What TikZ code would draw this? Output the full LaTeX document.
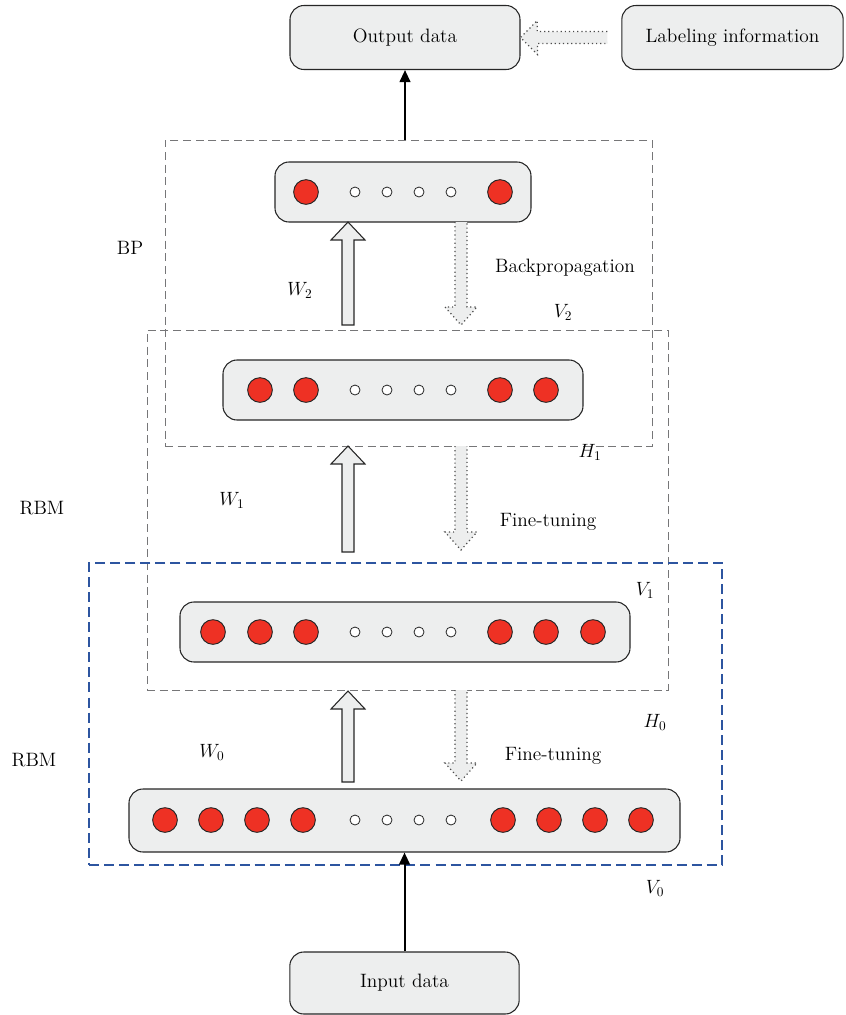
\documentclass[tikz,border=0pt]{standalone}
\usepackage{tikz}
\usetikzlibrary{shapes,arrows,arrows.meta,fit,positioning}
\definecolor{boxgray}{RGB}{237,238,238}
\definecolor{unitred}{RGB}{238,49,36}
\definecolor{rbmblue}{RGB}{45,85,160}
\definecolor{dashgray}{RGB}{118,118,120}
% hollow arrow going up: x, tail y, tip y
\newcommand{\wtarrow}[3]{\draw[weight] (#1-6,#2) -- (#1-6,#3+18) -- (#1-17,#3+18) -- (#1,#3) -- (#1+17,#3+18) -- (#1+6,#3+18) -- (#1+6,#2) -- cycle;}
% dotted arrow going down: x, tail y, tip y
\newcommand{\tunearrow}[3]{\draw[tune] (#1-6,#2) -- (#1-6,#3-18) -- (#1-16,#3-18) -- (#1,#3) -- (#1+16,#3-18) -- (#1+6,#3-18) -- (#1+6,#2);}

\begin{document}
\begin{tikzpicture}[x=0.75pt,y=-0.75pt,% pixel grid, y going down
			every node/.style={font=\fontsize{14.5}{16}\selectfont},
			io/.style={rectangle,rounded corners=10.5pt,draw=black!85,fill=boxgray,line width=0.8pt,minimum height=48pt},
			layer/.style={rectangle,rounded corners=10.5pt,draw=black!85,fill=boxgray,line width=0.8pt,inner sep=0pt},
			unit/.style={circle,draw=black!85,fill=unitred,line width=0.7pt,minimum size=18.5pt,inner sep=0pt},
			hid/.style={circle,draw=black!85,fill=white,line width=0.6pt,minimum size=7.5pt,inner sep=0pt},
			group/.style={draw=dashgray,dash pattern=on 6pt off 3.5pt,line width=0.75pt,inner sep=0pt},
			weight/.style={draw=black!85,fill=boxgray,line width=0.8pt},
			tune/.style={draw=black!70,fill=boxgray,dash pattern=on 0.9pt off 2.2pt,line width=0.9pt},
			flow/.style={draw,line width=1.5pt,-{Triangle[length=9pt,width=8pt]}}
		]
		\useasboundingbox (0,0) rectangle (846,1015);
		% dashed groups
		\node[group,fit={(165,140) (652,446)}](bp){};
		\node[group,fit={(147,330) (668,690)}](rbm1){};
		\node[group,draw=rbmblue,dash pattern=on 7.5pt off 3.8pt,line width=1pt,fit={(89,563) (722,865)}](rbm0){};
		% in and out
		\node[io,minimum width=172.5pt](out) at (405,37.5){Output data};
		\node[io,minimum width=166pt](lab) at (732.5,37.5){Labeling information};
		\node[io,minimum width=172pt,minimum height=46.5pt](in) at (404.5,983){Input data};
		% layers
		\node[layer,fit={(275,162) (531,222)}](l3){};
		\node[layer,fit={(223,360) (583,420)}](l2){};
		\node[layer,fit={(180,602) (630,662)}](l1){};
		\node[layer,fit={(129,789) (680,852)}](l0){};
		% units
		\foreach \y/\n/\offs in {192/l3/97,390/l2/{97,143},632/l1/{97,143,190},820/l0/{100,146,192,238}}{
			\foreach \d [count=\k] in \offs{
				\node[unit](\n-a\k) at (403-\d,\y){};
				\node[unit](\n-b\k) at (403+\d,\y){};
			}
			\foreach \d [count=\k] in {-48,-16,16,48}
				\node[hid](\n-h\k) at (403+\d,\y){};
		}
		% connectors
		\draw[flow](out.south |- bp.north) -- (out.south);
		\draw[flow](in.north) -- (in.north |- l0.south);
		\draw[tune](lab.west)++(-14,-6) -- ++(-70,0) -- ++(0,-11) -- (out.east) -- ++(17,17) -- ++(0,-11) -- ++(70,0);
		\wtarrow{348}{325}{222}
		\wtarrow{348}{552}{446}
		\wtarrow{348}{782}{691}
		\tunearrow{461}{222}{325}
		\tunearrow{461}{446}{550}
		\tunearrow{461}{690}{781}
		% labels
		\node(tbp) at (130,248){BP};
		\node(tw2) at (300,290){$W_2$};
		\node(tbk) at (565,268){Backpropagation};
		\node(tv2) at (563,312){$V_2$};
		\node(th1) at (590,452){$H_1$};
		\node(tw1) at (232,500){$W_1$};
		\node(tf1) at (548,522){Fine-tuning};
		\node(tr1) at (42,508){RBM};
		\node(tv1) at (645,590){$V_1$};
		\node(th0) at (655,722){$H_0$};
		\node(tw0) at (212,752){$W_0$};
		\node(tf0) at (553,756){Fine-tuning};
		\node(tr0) at (34,760){RBM};
		\node(tv0) at (655,888){$V_0$};
	\end{tikzpicture}
\end{document}
